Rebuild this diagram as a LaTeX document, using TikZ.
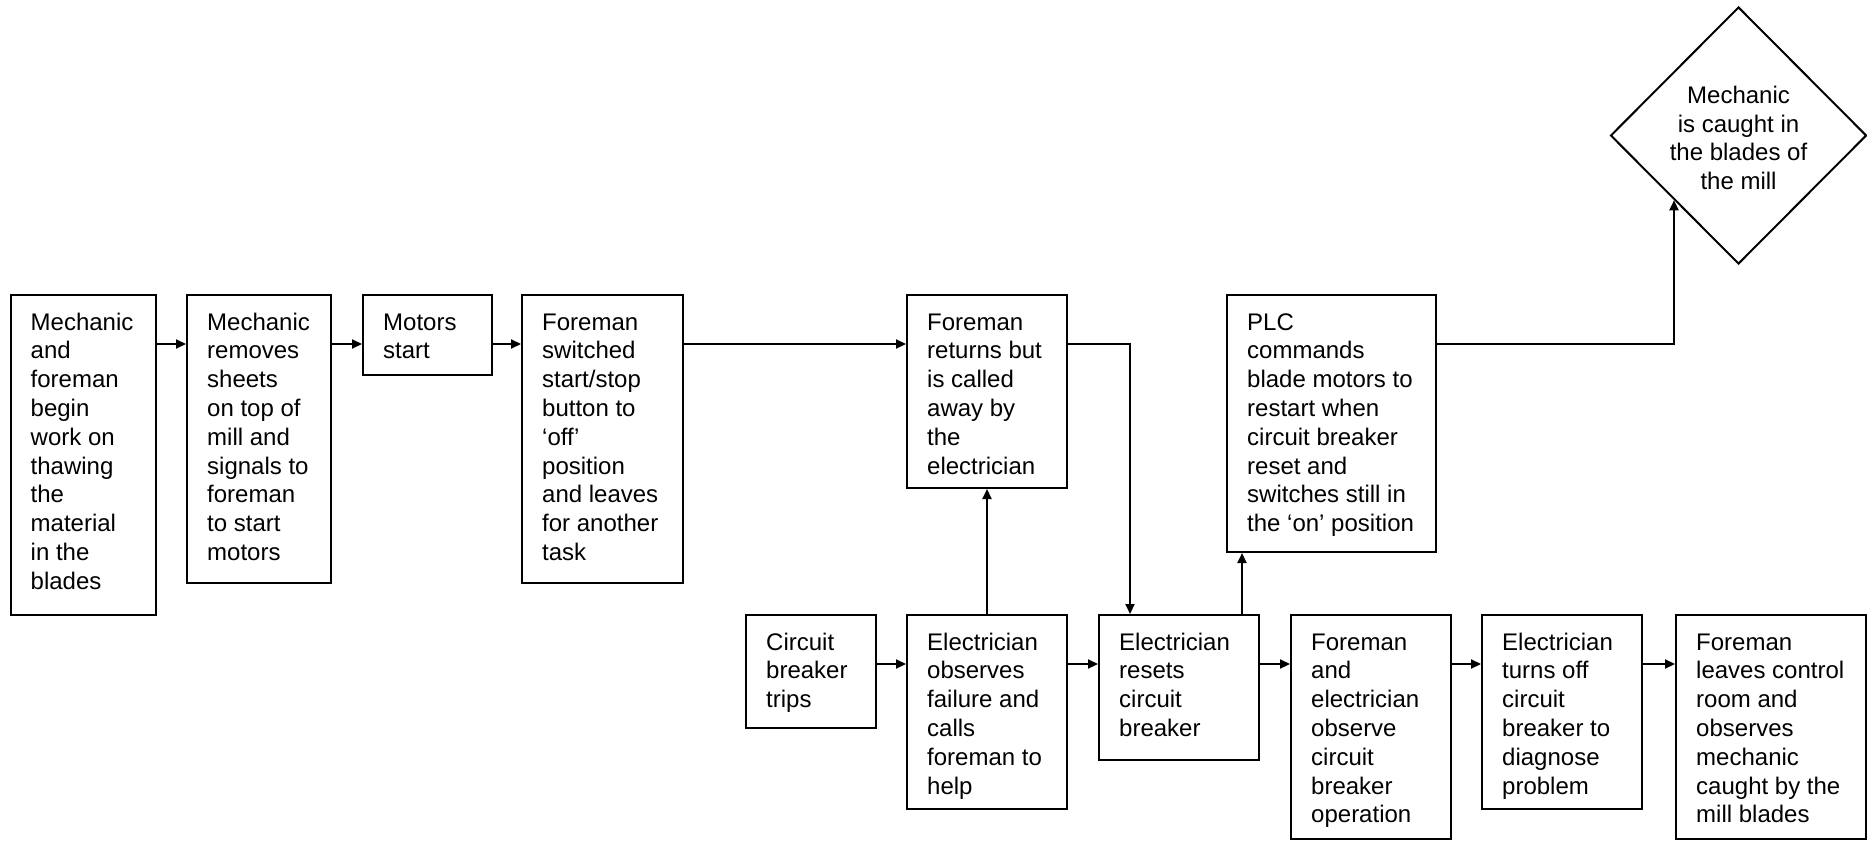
\documentclass[tikz,border=0pt]{standalone}
\usepackage{fontspec}
\setmainfont{Liberation Sans}
\usetikzlibrary{arrows.meta,shapes.geometric}

\tikzset{
  stepbox/.style={draw, line width=2pt, rectangle, inner sep=0pt, anchor=north west},
  steptext/.style={anchor=base west, inner sep=0pt, font=\fontsize{24}{28.8}\selectfont},
  flow/.style={line width=2pt, -{Triangle[length=10pt,width=9pt]}},
  endstate/.style={draw, line width=2pt, diamond, inner sep=0pt}
}

% #1 name, #2 x, #3 y (top-left), #4 width, #5 height, #6 text
\newcommand\flowbox[6]{%
  \node[stepbox, minimum width=#4pt, minimum height=#5pt] (#1) at (#2,#3) {};
  \node[steptext] (#1-t) at ([xshift=21pt,yshift=-36pt]#1.north west)
    {\parbox[t]{#4pt}{\raggedright #6}};
}

\begin{document}
\begin{tikzpicture}[x=1pt, y=-1pt]
\useasboundingbox (0,0) rectangle (1867,840);

% upper row
\flowbox{a}{9.5}{294}{145.5}{320}{Mechanic\\and\\foreman\\begin\\work on\\thawing\\the\\material\\in the\\blades}
\flowbox{b}{186}{294}{144}{288}{Mechanic\\removes\\sheets\\on top of\\mill and\\signals to\\foreman\\to start\\motors}
\flowbox{c}{362}{294}{129}{80}{Motors\\start}
\flowbox{d}{521}{294}{161}{288}{Foreman\\switched\\start/stop\\button to\\‘off’\\position\\and leaves\\for another\\task}
\flowbox{e}{906}{294}{160}{193}{Foreman\\returns but\\is called\\away by\\the\\electrician}
\flowbox{plc}{1226}{294}{209}{257}{PLC\\commands\\blade motors to\\restart when\\circuit breaker\\reset and\\switches still in\\the ‘on’ position}

% final state
\node[endstate, minimum width=256pt, minimum height=257pt] (mill) at (1738.5,135.5) {};
\node[align=center, inner sep=0pt, font=\fontsize{24}{28.8}\selectfont] (mill-t) at (1738.5,138)
  {Mechanic\\is caught in\\the blades of\\the mill};

% lower row
\flowbox{cb}{745}{614}{130}{113}{Circuit\\breaker\\trips}
\flowbox{obs}{906}{614}{160}{194}{Electrician\\observes\\failure and\\calls\\foreman to\\help}
\flowbox{res}{1098}{614}{160}{145}{Electrician\\resets\\circuit\\breaker}
\flowbox{fe}{1290}{614}{160}{224}{Foreman\\and\\electrician\\observe\\circuit\\breaker\\operation}
\flowbox{off}{1481}{614}{160}{194}{Electrician\\turns off\\circuit\\breaker to\\diagnose\\problem}
\flowbox{leave}{1675}{614}{190}{224}{Foreman\\leaves control\\room and\\observes\\mechanic\\caught by the\\mill blades}

% connector levels and bends
\coordinate (row1) at (0,344);
\coordinate (row2) at (0,664);
\coordinate (drop) at (1130,344);
\coordinate (rise) at (1242,0);

% upper row connectors
\draw[flow] (a.east |- row1) -- (b.west |- row1);
\draw[flow] (b.east |- row1) -- (c.west |- row1);
\draw[flow] (c.east |- row1) -- (d.west |- row1);
\draw[flow] (d.east |- row1) -- (e.west |- row1);
\draw[flow] (e.east |- row1) -- (drop) -- (drop |- res.north);
\draw[flow] (plc.east |- row1) -| (mill.south west);

% lower row connectors
\draw[flow] (cb.east |- row2) -- (obs.west |- row2);
\draw[flow] (obs.east |- row2) -- (res.west |- row2);
\draw[flow] (res.east |- row2) -- (fe.west |- row2);
\draw[flow] (fe.east |- row2) -- (off.west |- row2);
\draw[flow] (off.east |- row2) -- (leave.west |- row2);

% vertical links between rows
\draw[flow] (obs.north) -- (e.south);
\draw[flow] (rise |- res.north) -- (rise |- plc.south);
\end{tikzpicture}
\end{document}
